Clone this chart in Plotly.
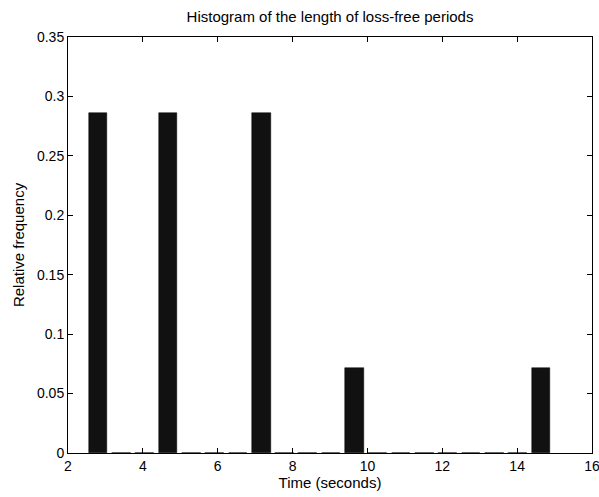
import plotly.graph_objects as go

# Histogram of loss-free period lengths (20 bins)
bin_start = 2.80
bin_width = 0.623
bin_centers = [round(bin_start + k * bin_width, 3) for k in range(20)]
rel_freq = [0.2857, 0, 0, 0.2857, 0, 0, 0, 0.2857, 0, 0, 0, 0.0714,
            0, 0, 0, 0, 0, 0, 0, 0.0714]

x_ticks = [2, 4, 6, 8, 10, 12, 14, 16]
y_ticks = [0, 0.05, 0.1, 0.15, 0.2, 0.25, 0.3, 0.35]
y_tick_text = ["0", "0.05", "0.1", "0.15", "0.2", "0.25", "0.3", "0.35"]

fig = go.Figure()
fig.add_trace(go.Bar(
    x=bin_centers, y=rel_freq, width=0.8 * bin_width,
    marker=dict(color="#111111", line=dict(color="#000000", width=0.5)),
))

fam = "Liberation Sans, Arial, sans-serif"
tick_font = dict(family=fam, size=14, color="#000000")
label_font = dict(family=fam, size=15, color="#000000")
axis_common = dict(
    showgrid=False, zeroline=False, showline=True, linecolor="#000000", linewidth=1,
    mirror="allticks", ticks="inside", ticklen=5, tickcolor="#000000", tickwidth=1,
    tickfont=tick_font, automargin=False, ticklabeloverflow="allow",
)
fig.update_layout(
    width=599, height=497,
    margin=dict(l=68, r=7, t=37, b=44),
    paper_bgcolor="white", plot_bgcolor="white",
    font=tick_font, showlegend=False, bargap=0,
    title=dict(text="Histogram of the length of loss-free periods", x=0.5, xanchor="center",
               xref="paper", y=1 - 17 / 497, yref="container", yanchor="middle",
               font=label_font),
    xaxis=dict(range=[2, 16], tickvals=x_ticks, **axis_common,
               title=dict(text="Time (seconds)", standoff=4, font=label_font)),
    yaxis=dict(range=[0, 0.35], tickvals=y_ticks, ticktext=y_tick_text, **axis_common,
               title=dict(text="Relative frequency", standoff=8, font=label_font)),
)
fig.write_html("out.html")
